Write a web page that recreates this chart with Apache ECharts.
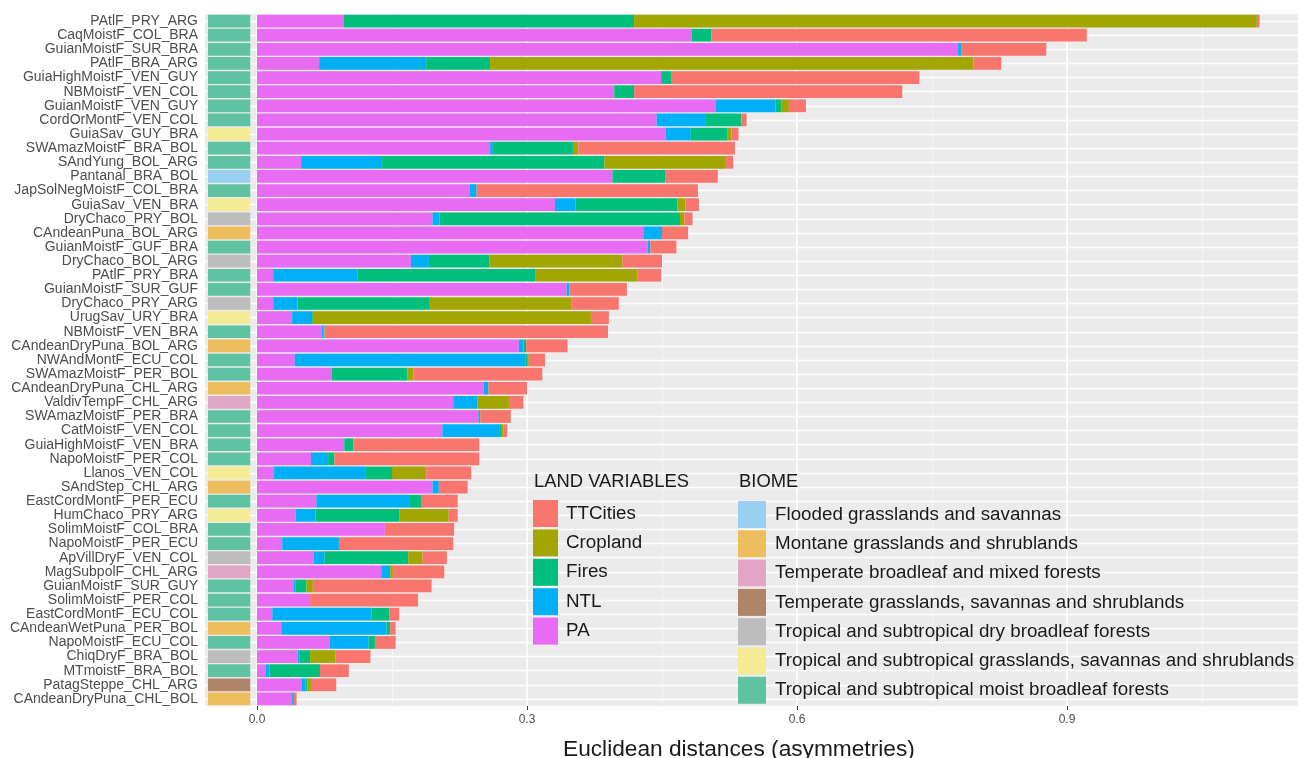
<!DOCTYPE html>
<html>
<head>
<meta charset="utf-8">
<script src="https://cdn.jsdelivr.net/npm/echarts@6/dist/echarts.min.js"></script>
<style>
html,body{margin:0;padding:0;background:#fff;}
#chart{width:1298px;height:758px;}
</style>
</head>
<body>
<div id="chart"></div>
<script>
// ---------------- DATA ----------------
const categories = [
  'PAtlF_PRY_ARG','CaqMoistF_COL_BRA','GuianMoistF_SUR_BRA','PAtlF_BRA_ARG','GuiaHighMoistF_VEN_GUY',
  'NBMoistF_VEN_COL','GuianMoistF_VEN_GUY','CordOrMontF_VEN_COL','GuiaSav_GUY_BRA','SWAmazMoistF_BRA_BOL',
  'SAndYung_BOL_ARG','Pantanal_BRA_BOL','JapSolNegMoistF_COL_BRA','GuiaSav_VEN_BRA','DryChaco_PRY_BOL',
  'CAndeanPuna_BOL_ARG','GuianMoistF_GUF_BRA','DryChaco_BOL_ARG','PAtlF_PRY_BRA','GuianMoistF_SUR_GUF',
  'DryChaco_PRY_ARG','UrugSav_URY_BRA','NBMoistF_VEN_BRA','CAndeanDryPuna_BOL_ARG','NWAndMontF_ECU_COL',
  'SWAmazMoistF_PER_BOL','CAndeanDryPuna_CHL_ARG','ValdivTempF_CHL_ARG','SWAmazMoistF_PER_BRA','CatMoistF_VEN_COL',
  'GuiaHighMoistF_VEN_BRA','NapoMoistF_PER_COL','Llanos_VEN_COL','SAndStep_CHL_ARG','EastCordMontF_PER_ECU',
  'HumChaco_PRY_ARG','SolimMoistF_COL_BRA','NapoMoistF_PER_ECU','ApVillDryF_VEN_COL','MagSubpolF_CHL_ARG',
  'GuianMoistF_SUR_GUY','SolimMoistF_PER_COL','EastCordMontF_ECU_COL','CAndeanWetPuna_PER_BOL','NapoMoistF_ECU_COL',
  'ChiqDryF_BRA_BOL','MTmoistF_BRA_BOL','PatagSteppe_CHL_ARG','CAndeanDryPuna_CHL_BOL'
];
const pa = [0.096,0.483,0.779,0.069,0.449,0.397,0.510,0.444,0.454,0.259,
            0.049,0.395,0.236,0.331,0.195,0.430,0.434,0.171,0.018,0.344,
            0.018,0.039,0.072,0.291,0.042,0.083,0.252,0.218,0.246,0.206,
            0.097,0.060,0.019,0.195,0.066,0.043,0.142,0.028,0.063,0.138,
            0.041,0.059,0.017,0.027,0.081,0.045,0.010,0.050,0.039];
const ntl = [0,0,0.004,0.119,0,0,0.066,0.054,0.028,0.003,
             0.090,0,0.008,0.023,0.008,0.020,0.003,0.020,0.094,0.003,
             0.027,0.021,0.002,0.005,0.256,0,0.005,0.027,0.002,0.063,
             0,0.019,0.102,0.007,0.103,0.022,0,0.063,0.012,0.010,
             0.002,0,0.110,0.117,0.043,0.002,0.004,0.004,0.001];
const fires = [0.323,0.022,0,0.071,0.011,0.022,0.007,0.040,0.041,0.089,
               0.247,0.059,0,0.113,0.267,0,0,0.067,0.197,0,
               0.147,0.002,0.001,0.003,0.002,0.084,0,0,0,0.003,
               0.010,0.007,0.029,0,0.014,0.093,0,0,0.093,0,
               0.012,0,0.020,0.004,0.007,0.012,0.056,0.002,0.001];
const cropland = [0.692,0,0,0.537,0,0,0.008,0,0.004,0.006,
                  0.134,0,0,0.009,0.005,0,0,0.148,0.114,0,
                  0.157,0.309,0,0,0.002,0.007,0,0.035,0,0.002,
                  0,0,0.038,0,0,0.055,0,0,0.016,0.003,
                  0.007,0,0,0,0,0.028,0,0.004,0];
const ttcities = [0.003,0.417,0.094,0.031,0.276,0.298,0.019,0.006,0.008,0.174,
                  0.009,0.058,0.246,0.015,0.009,0.029,0.029,0.044,0.026,0.064,
                  0.053,0.020,0.315,0.046,0.018,0.143,0.043,0.016,0.034,0.004,
                  0.140,0.161,0.050,0.032,0.040,0.010,0.077,0.127,0.027,0.057,
                  0.132,0.120,0.011,0.006,0.023,0.039,0.032,0.028,0.003];
const biomes = [
  'Flooded grasslands and savannas',
  'Montane grasslands and shrublands',
  'Temperate broadleaf and mixed forests',
  'Temperate grasslands, savannas and shrublands',
  'Tropical and subtropical dry broadleaf forests',
  'Tropical and subtropical grasslands, savannas and shrublands',
  'Tropical and subtropical moist broadleaf forests'
];
// biome index for each category row
const rowBiome = [6,6,6,6,6,6,6,6,5,6,
                  6,0,6,5,4,1,6,4,6,6,
                  4,5,6,1,6,6,1,2,6,6,
                  6,6,5,1,6,5,6,6,4,2,
                  6,6,6,1,6,4,6,3,1];
const landVars = ['PA','NTL','Fires','Cropland','TTCities'];
const landLegendOrder = ['TTCities','Cropland','Fires','NTL','PA'];
const xTicks = [0, 0.3, 0.6, 0.9];
const xMinorTicks = [0.15, 0.45, 0.75, 1.05];

// ---------------- STYLE / LAYOUT ----------------
const landColors = {PA:'#E76BF3', NTL:'#00B0F6', Fires:'#00BF7D', Cropland:'#A3A500', TTCities:'#F8766D'};
const biomeColors = ['#99CFF0','#EEBE5E','#E1A5C6','#B08469','#BDBDBD','#F4EB94','#5FC2A2'];
const TILE_X0 = -0.0545, TILE_X1 = -0.0075;
const X_MIN = -0.0578, X_MAX = 1.1567;
const FONT = "'Liberation Sans', Arial, sans-serif";

const seriesData = {PA: pa, NTL: ntl, Fires: fires, Cropland: cropland, TTCities: ttcities};

const series = [];
// gridlines (drawn beneath everything)
series.push({
  type: 'line', name: '_grid', data: [], silent: true, z: 1,
  markLine: {
    silent: true, symbol: 'none', z: 1, animation: false,
    label: {show: false},
    data: [
      ...categories.map(c => ({yAxis: c, lineStyle: {color: '#FFFFFF', width: 1.3, type: 'solid'}})),
      ...xMinorTicks.map(v => ({xAxis: v, lineStyle: {color: '#F7F7F7', width: 0.8, type: 'solid'}})),
      ...xTicks.map(v => ({xAxis: v, lineStyle: {color: '#FFFFFF', width: 1.6, type: 'solid'}}))
    ]
  }
});
// stacked bars
landVars.forEach(name => {
  series.push({
    type: 'bar', name: name, stack: 'total', data: seriesData[name],
    barWidth: '90%', z: 3,
    itemStyle: {color: landColors[name]},
    emphasis: {disabled: true}
  });
});
// biome tiles
biomes.forEach((b, bi) => {
  const items = [];
  rowBiome.forEach((r, i) => { if (r === bi) items.push([TILE_X0, TILE_X1, i]); });
  series.push({
    type: 'custom', name: b, z: 3,
    itemStyle: {color: biomeColors[bi]},
    encode: {x: [0, 1], y: 2},
    data: items,
    renderItem: function (params, api) {
      const p0 = api.coord([api.value(0), api.value(2)]);
      const p1 = api.coord([api.value(1), api.value(2)]);
      const h = api.size([0, 1])[1] * 0.9;
      return {
        type: 'rect',
        shape: {x: p0[0], y: p0[1] - h / 2, width: p1[0] - p0[0], height: h},
        style: {fill: biomeColors[bi]}
      };
    }
  });
});

const option = {
  animation: false,
  textStyle: {fontFamily: FONT},
  grid: {left: 205, right: 0, top: 14, bottom: 52, show: true, backgroundColor: '#EBEBEB', borderWidth: 0},
  xAxis: {
    type: 'value', min: X_MIN, max: X_MAX,
    axisLine: {show: false},
    splitLine: {show: false},
    axisTick: {show: true, customValues: xTicks, length: 4, lineStyle: {color: '#333333'}},
    axisLabel: {customValues: xTicks, formatter: v => v.toFixed(1), color: '#4D4D4D', fontSize: 12, margin: 8, fontFamily: FONT}
  },
  yAxis: {
    type: 'category', data: categories, inverse: true,
    axisLine: {show: false},
    splitLine: {show: false},
    axisTick: {show: true, alignWithLabel: true, length: 4, lineStyle: {color: '#333333'}},
    axisLabel: {color: '#4D4D4D', fontSize: 14, margin: 7, fontFamily: FONT, interval: 0}
  },
  title: [
    {text: 'Euclidean distances (asymmetries)', left: 558, top: 733,
     textStyle: {fontSize: 22.7, fontWeight: 'normal', color: '#1A1A1A', fontFamily: FONT}},
    {text: 'LAND VARIABLES', left: 529, top: 468,
     textStyle: {fontSize: 18.4, fontWeight: 'normal', color: '#1A1A1A', fontFamily: FONT}},
    {text: 'BIOME', left: 734, top: 468,
     textStyle: {fontSize: 18.4, fontWeight: 'normal', color: '#1A1A1A', fontFamily: FONT}}
  ],
  legend: [
    {data: landLegendOrder, orient: 'vertical', left: 533, top: 500, padding: 0,
     icon: 'rect', itemWidth: 25, itemHeight: 27, itemGap: 2.4, selectedMode: false,
     textStyle: {fontSize: 18.8, color: '#1A1A1A', fontFamily: FONT, padding: [0, 0, 0, 3]}},
    {data: biomes, orient: 'vertical', left: 738, top: 501, padding: 0,
     icon: 'rect', itemWidth: 28, itemHeight: 27, itemGap: 2.3, selectedMode: false,
     textStyle: {fontSize: 18.8, color: '#1A1A1A', fontFamily: FONT, padding: [0, 0, 0, 4]}}
  ],
  series: series
};

const chart = echarts.init(document.getElementById('chart'), null, {renderer: 'canvas'});
chart.setOption(option);
</script>
</body>
</html>
